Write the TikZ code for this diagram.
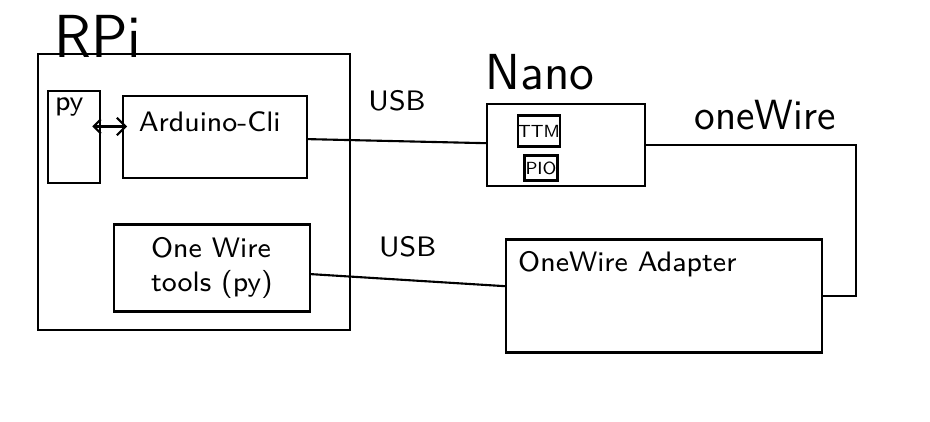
\documentclass[tikz,border=0pt]{standalone}
\usetikzlibrary{arrows.meta}
\begin{document}
\begin{tikzpicture}[x=0.01cm, y=-0.01cm, line width=0.6pt,
  every node/.style={font=\sffamily\footnotesize},
  box/.style={draw, rectangle, inner sep=0pt},
  tag/.style={font=\sffamily\Large}]
  \useasboundingbox (0,0) rectangle (930,421);

  % RPi side
  \node[box, minimum width=3.12cm, minimum height=2.75cm] (rpi) at (194,192) {};
  \node[tag, font=\sffamily\LARGE] (rpilbl) at (98,36) {RPi};
  \node[box, minimum width=0.52cm, minimum height=0.92cm,
    label={[anchor=north west, inner sep=2pt]north west:py}] (py) at (74,137) {};
  \node[box, minimum width=1.84cm, minimum height=0.82cm,
    label={[anchor=north west, inner sep=4.5pt]north west:Arduino-Cli}] (cli) at (215,137) {};
  \node[box, minimum width=1.95cm, minimum height=0.87cm, align=left] (tools) at (212,268) {One Wire\\tools (py)};

  % Nano and adapter
  \node[box, minimum width=1.58cm, minimum height=0.82cm] (nano) at (566,145) {};
  \node[tag] (nanolbl) at (540,72) {Nano};
  \node[box, minimum width=0.32cm, minimum height=0.31cm, font=\sffamily\tiny] (ttm) at (539,131) {TTM};
  \node[box, minimum width=0.33cm, minimum height=0.25cm, font=\sffamily\tiny] (pio) at (541,168) {PIO};
  \node[box, minimum width=3.16cm, minimum height=1.13cm,
    label={[anchor=north west, inner sep=3.5pt]north west:OneWire Adapter}] (adapter) at (664,296) {};
  \node[tag, font=\sffamily\large] (wirelbl) at (765,115) {oneWire};

  % links
  \draw[{Straight Barb[length=2pt]}-{Straight Barb[length=2.5pt]}] ([shift={(-2.5pt,3pt)}]py.east) -- ([shift={(1.5pt,3pt)}]cli.west);
  \draw (cli) -- node[midway, above=5pt] {USB} (nano);
  \draw (tools) -- node[midway, above=3pt] {USB} (adapter);
  \draw (nano.east) -- ++(210,0) |- (adapter.east);
\end{tikzpicture}
\end{document}
